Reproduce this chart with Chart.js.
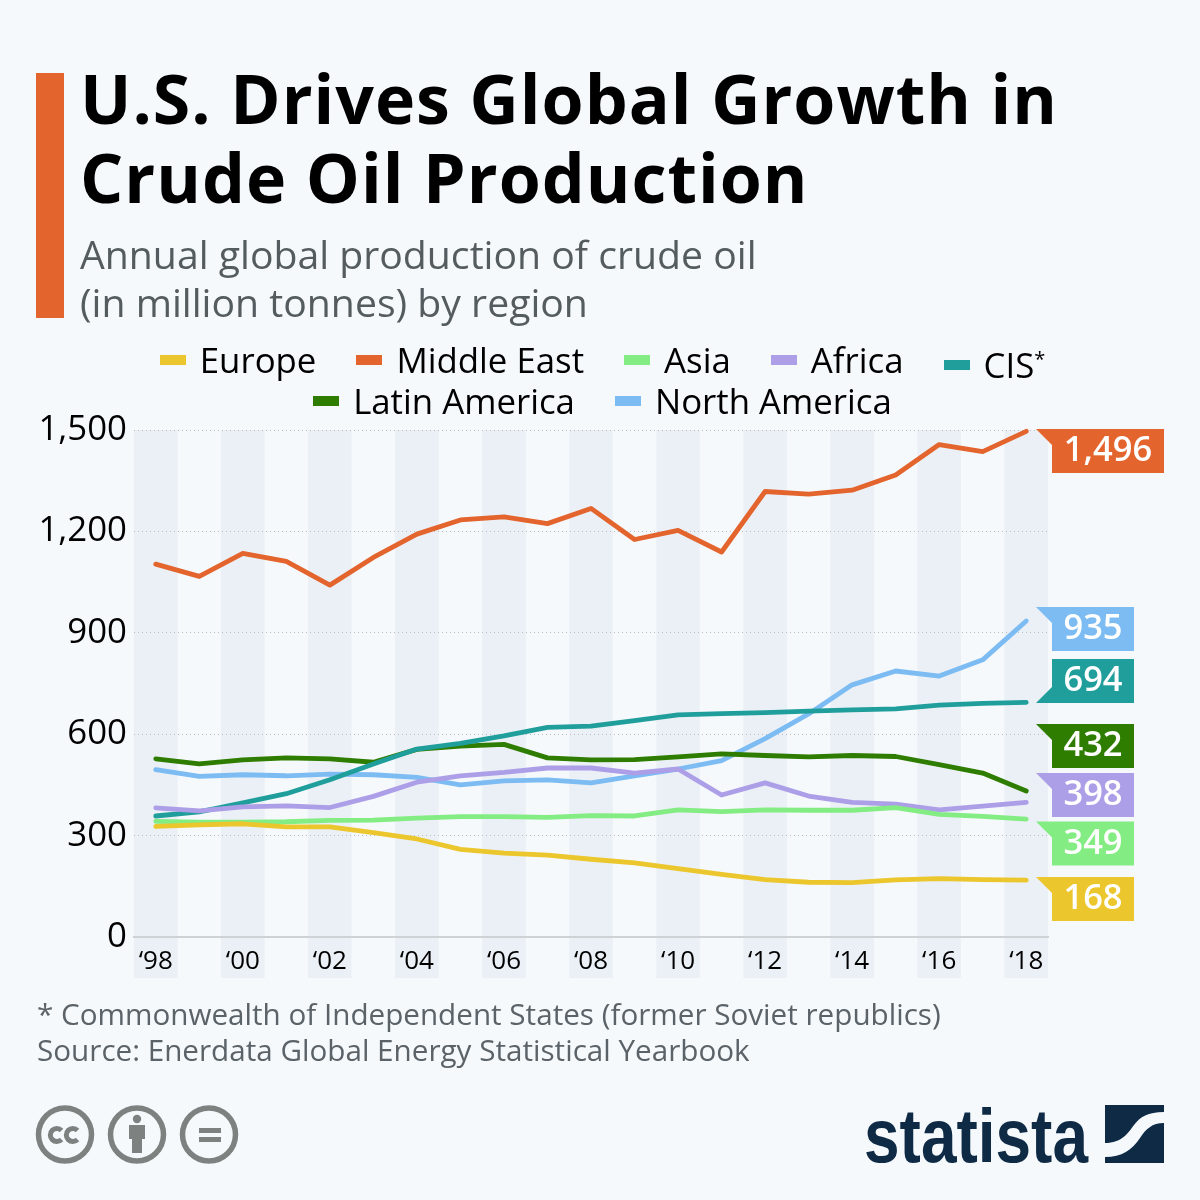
<!DOCTYPE html>
<html>
<head>
<meta charset="utf-8">
<title>U.S. Drives Global Growth in Crude Oil Production</title>
<script src="https://cdn.jsdelivr.net/npm/chart.js@4/dist/chart.umd.min.js"></script>
<style>
  html, body { margin: 0; padding: 0; background: #f5f9fc; }
  body { position: relative; width: 1200px; height: 1200px; overflow: hidden; font-family: "Open Sans", sans-serif; }
  #myChart { position: absolute; left: 0; top: 0; }
  .abs { position: absolute; white-space: nowrap; }
  #bar { left: 36px; top: 73px; width: 28px; height: 245px; background: #e3642d; }
  #title { left: 80px; top: 58px; font-size: 68px; line-height: 79px; font-weight: 700; color: #000; letter-spacing: 1px; }
  #subtitle { left: 80px; top: 230px; font-size: 39.2px; line-height: 48px; color: #555c60; }
  #legend { left: 0; top: 339px; width: 1205px; font-size: 34.8px; color: #000; }
  .row { display: flex; justify-content: center; gap: 40px; height: 41px; line-height: 41px; }
  .item { display: flex; align-items: center; gap: 14px; }
  .swatch { width: 26px; height: 10px; }
  .item sup { font-size: 20px; line-height: 0; vertical-align: 12px; }
  #footer { left: 37px; top: 996px; font-size: 29.65px; line-height: 36px; color: #5b6369; }
  #icons { left: 30px; top: 1100px; }
  #logo { left: 860px; top: 1095px; }
</style>
</head>
<body>
<canvas id="myChart" width="1200" height="1200"></canvas>
<div class="abs" id="bar"></div>
<div class="abs" id="title">U.S. Drives Global Growth in<br>Crude Oil Production</div>
<div class="abs" id="subtitle">Annual global production of crude oil<br>(in million tonnes) by region</div>
<div class="abs" id="legend"></div>
<div class="abs" id="footer">* Commonwealth of Independent States (former Soviet republics)<br>Source: Enerdata Global Energy Statistical Yearbook</div>

<svg class="abs" id="icons" width="220" height="70" viewBox="0 0 220 70">
  <g fill="none" stroke="#7d8280" stroke-width="5.5">
    <circle cx="35" cy="34.5" r="26.5"/>
    <circle cx="107" cy="34.5" r="26.5"/>
    <circle cx="179" cy="34.5" r="26.5"/>
    <path d="M31.5 30.5a6.5 6.5 0 1 0 0 9M47.5 30.5a6.5 6.5 0 1 0 0 9" stroke-width="5"/>
  </g>
  <g fill="#7d8280">
    <circle cx="107" cy="19" r="4.2"/>
    <path d="M99 25h16v14h-3v14h-10V39h-3z"/>
    <rect x="169" y="28" width="22" height="5"/>
    <rect x="169" y="37" width="22" height="5"/>
  </g>
</svg>

<svg class="abs" id="logo" width="320" height="80" viewBox="0 0 320 80">
  <text x="4" y="67" font-family="Liberation Sans Narrow, Liberation Sans" font-weight="700" font-size="76" fill="#0f2a45" textLength="224" lengthAdjust="spacingAndGlyphs">statista</text>
  <rect x="245" y="10" width="59" height="58" fill="#0f2a45"/>
  <path d="M245 48C262 48 268 38 274 30C280 22 288 17 304 17V28C292 28 286 34 280 43C272 55 262 62 245 62Z" fill="#f5f9fc"/>
</svg>

<script>
'use strict'
const years = ['98', '99', '00', '01', '02', '03', '04', '05', '06', '07', '08', '09', '10', '11', '12', '13', '14', '15', '16', '17', '18']
const yTicks = [0, 300, 600, 900, 1200, 1500]

const europe = [327, 332, 335, 326, 326, 309, 290, 259, 248, 242, 230, 219, 202, 185, 170, 162, 161, 169, 173, 170, 168]
const middleEast = [1103, 1067, 1135, 1111, 1041, 1123, 1192, 1234, 1243, 1223, 1268, 1176, 1203, 1139, 1318, 1310, 1322, 1367, 1457, 1436, 1496]
const asia = [342, 340, 340, 341, 345, 346, 352, 356, 356, 354, 359, 358, 376, 371, 376, 375, 375, 383, 363, 357, 349]
const africa = [382, 373, 385, 388, 383, 416, 458, 477, 487, 500, 500, 485, 497, 420, 456, 417, 398, 393, 376, 387, 398]
const cis = [358, 370, 397, 424, 465, 512, 556, 573, 595, 620, 624, 640, 657, 661, 664, 668, 672, 675, 686, 691, 694]
const latinAmerica = [527, 512, 524, 530, 527, 517, 555, 565, 570, 530, 524, 525, 533, 542, 537, 533, 537, 534, 510, 485, 432]
const northAmerica = [495, 475, 480, 477, 482, 480, 472, 450, 462, 465, 456, 477, 497, 522, 587, 660, 746, 787, 772, 820, 935]

const seriesNames = ['Europe', 'Middle East', 'Asia', 'Africa', 'CIS*', 'Latin America', 'North America']
const seriesValues = [europe, middleEast, asia, africa, cis, latinAmerica, northAmerica]
const seriesColors = ['#ebc62c', '#e3642d', '#83ec82', '#ad9ee8', '#209e9c', '#2e7d00', '#7cbcf3']

// where each end tag sits, the tags get pushed apart so they dont overlap
const tagTops = [877, 429, 821.5, 773, 659, 724, 607]
const tagFlipped = [false, false, false, false, true, false, false]

//Columnas de fondo
const bandsPlugin = {
  id: 'bands',
  beforeDraw(chart) {
    const { ctx, scales } = chart
    const step = scales.x.getPixelForValue(1) - scales.x.getPixelForValue(0)
    ctx.save()
    ctx.fillStyle = '#ebf0f6'
    years.forEach((y, i) => {
      if (i % 2 === 0) {
        ctx.fillRect(scales.x.getPixelForValue(i) - step / 2, scales.y.top, step, 978 - scales.y.top)
      }
    })
    ctx.restore()
  },
}

//Etiquetas al final de cada linea
const tagsPlugin = {
  id: 'tags',
  afterDraw(chart) {
    const { ctx } = chart
    ctx.save()
    ctx.font = '600 34.5px "Open Sans"'
    ctx.textAlign = 'center'
    ctx.textBaseline = 'middle'
    seriesValues.forEach((values, i) => {
      const text = values[values.length - 1].toLocaleString('en-US')
      const w = text.length > 3 ? 112 : 82
      const top = tagTops[i]
      ctx.fillStyle = seriesColors[i]
      ctx.fillRect(1052, top, w, 44)
      ctx.beginPath()
      if (tagFlipped[i]) {
        ctx.moveTo(1036, top + 44)
        ctx.lineTo(1052, top + 44)
        ctx.lineTo(1052, top + 28)
      } else {
        ctx.moveTo(1036, top)
        ctx.lineTo(1052, top)
        ctx.lineTo(1052, top + 16)
      }
      ctx.closePath()
      ctx.fill()
      ctx.fillStyle = '#fff'
      ctx.fillText(text, 1052 + w / 2, top + 22.5)
    })
    ctx.restore()
  },
}

const myChart = new Chart(document.getElementById('myChart').getContext('2d'), {
  type: 'line',
  data: {
    labels: years,
    datasets: seriesNames.map((name, i) => ({
      label: name,
      data: seriesValues[i],
      borderColor: seriesColors[i],
      backgroundColor: seriesColors[i],
      borderWidth: 4.8,
      borderCapStyle: 'round',
      borderJoinStyle: 'round',
      pointRadius: 0,
      tension: 0,
      clip: false,
    })),
  },
  options: {
    responsive: false,
    animation: false,
    layout: { padding: { left: 0, top: 430, right: 152, bottom: 0 } },
    plugins: { legend: { display: false }, tooltip: { enabled: false } },
    scales: {
      x: {
        offset: true,
        grid: { display: false },
        border: { display: true, color: '#cfd2d4', width: 2 },
        afterFit(scale) { scale.height = 263 },
        ticks: {
          autoSkip: false,
          maxRotation: 0,
          padding: 1,
          color: '#000',
          font: { family: 'Open Sans', size: 26 },
          callback(value, i) { return i % 2 === 0 ? '\u2018' + years[i] : '' },
        },
      },
      y: {
        min: 0,
        max: 1500,
        afterFit(scale) { scale.width = 134 },
        afterBuildTicks(scale) { scale.ticks = yTicks.map((value) => ({ value })) },
        border: { display: false, dash: [1, 3] },
        grid: { color: '#b9bdc0', lineWidth: 1, drawTicks: false },
        ticks: {
          padding: 7,
          color: '#000',
          font: { family: 'Open Sans', size: 34.8 },
          callback(value) { return value.toLocaleString('en-US') },
        },
      },
    },
  },
  plugins: [bandsPlugin, tagsPlugin],
})

// leyenda en html, la de chart.js no deja separar bien las filas
const legendRows = [5, 2]
const legend = document.getElementById('legend')
let n = 0
legendRows.forEach((count) => {
  const row = document.createElement('div')
  row.className = 'row'
  myChart.data.datasets.slice(n, n + count).forEach((ds) => {
    const item = document.createElement('div')
    item.className = 'item'
    if (ds.label === 'CIS*') item.style.transform = 'translateY(5px)'
    item.innerHTML = `<span class="swatch" style="background:${ds.borderColor}"></span><span>${ds.label.replace('*', '<sup>*</sup>')}</span>`
    row.appendChild(item)
  })
  legend.appendChild(row)
  n += count
})
</script>
</body>
</html>
